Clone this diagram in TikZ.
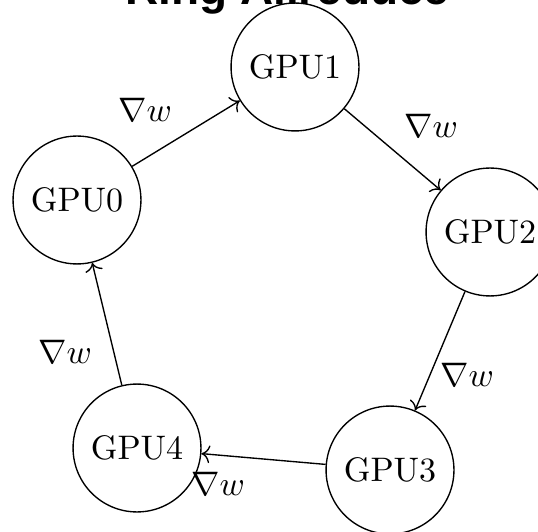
\documentclass[tikz,border=0pt]{standalone}
\usepackage{fontspec}
\newfontfamily\titlefont{Liberation Sans}
\usetikzlibrary{arrows.meta}

\tikzset{
    gpu/.style={draw, circle, minimum size=37.6pt, inner sep=0pt},
    grad/.style={inner sep=1pt}
}

\begin{document}
\begin{tikzpicture}[x=0.294pt, y=-0.294pt]
    \useasboundingbox (0,0) rectangle (538,531);
    \node[anchor=base, font=\titlefont\bfseries\fontsize{13.5}{16}\selectfont] (title) at (287.5,5) {Ring Allreduce};
    %
    \node[gpu] (gpu0) at (77,200) {GPU0};
    \node[gpu] (gpu1) at (295,67) {GPU1};
    \node[gpu] (gpu2) at (490,232) {GPU2};
    \node[gpu] (gpu3) at (390,470) {GPU3};
    \node[gpu] (gpu4) at (137,448) {GPU4};
    %
    \draw[->] (gpu0) -- (gpu1);
    \draw[->] (gpu1) -- (gpu2);
    \draw[->] (gpu2) -- (gpu3);
    \draw[->] (gpu3) -- (gpu4);
    \draw[->] (gpu4) -- (gpu0);
    %
    \node[grad] (grad01) at (145,110) {$\nabla w$};
    \node[grad] (grad12) at (431,126) {$\nabla w$};
    \node[grad] (grad23) at (467,375) {$\nabla w$};
    \node[grad] (grad34) at (218,484) {$\nabla w$};
    \node[grad] (grad40) at (65,352) {$\nabla w$};
\end{tikzpicture}
\end{document}
